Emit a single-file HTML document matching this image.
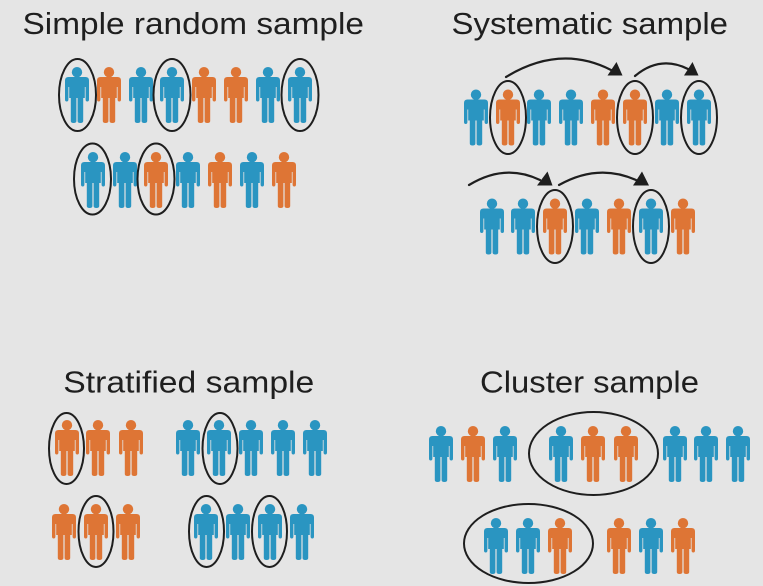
<!DOCTYPE html>
<html>
<head>
<meta charset="utf-8">
<style>
html,body{margin:0;padding:0;background:#e5e5e5;}
body{width:763px;height:586px;overflow:hidden;}
svg{display:block;}
.b{fill:#2a95c1;}
.o{fill:#de7535;}
.e{fill:none;stroke:#1e1e1e;stroke-width:2;}
.t{font-family:"Liberation Sans",sans-serif;font-size:31px;fill:#1f1f1f;}
.a{fill:none;stroke:#1e1e1e;stroke-width:2.2;stroke-linecap:round;}
.h{fill:#1e1e1e;}
</style>
</head>
<body>
<svg width="763" height="586" viewBox="0 0 763 586" xmlns="http://www.w3.org/2000/svg">
<rect width="763" height="586" fill="#e5e5e5"/>

<text class="t" x="22.5" y="34" textLength="341.5" lengthAdjust="spacingAndGlyphs">Simple random sample</text>
<text class="t" x="451.5" y="34" textLength="276.5" lengthAdjust="spacingAndGlyphs">Systematic sample</text>
<text class="t" x="63.3" y="392.5" textLength="251" lengthAdjust="spacingAndGlyphs">Stratified sample</text>
<text class="t" x="480" y="392.5" textLength="219" lengthAdjust="spacingAndGlyphs">Cluster sample</text>

<!-- Simple random sample row 1 (top=67) -->
<g transform="translate(77,67)" class="b"><circle cx="0" cy="5.2" r="5.2"/><path d="M-8.5 10H8.5Q12 10 12 13.5V20H-12V13.5Q-12 10-8.5 10ZM-12 15H-8.6V32.5Q-8.6 34.5-10.3 34.5Q-12 34.5-12 32.5ZM8.6 15H12V32.5Q12 34.5 10.3 34.5Q8.6 34.5 8.6 32.5ZM-7.8 15H7.8V31H-7.8ZM-6.2 28H-0.6V54Q-0.6 56-3.4 56Q-6.2 56-6.2 54ZM0.6 28H6.2V54Q6.2 56 3.4 56Q0.6 56 0.6 54ZM-2.2 8H2.2V11H-2.2Z"/></g>
<g transform="translate(109,67)" class="o"><circle cx="0" cy="5.2" r="5.2"/><path d="M-8.5 10H8.5Q12 10 12 13.5V20H-12V13.5Q-12 10-8.5 10ZM-12 15H-8.6V32.5Q-8.6 34.5-10.3 34.5Q-12 34.5-12 32.5ZM8.6 15H12V32.5Q12 34.5 10.3 34.5Q8.6 34.5 8.6 32.5ZM-7.8 15H7.8V31H-7.8ZM-6.2 28H-0.6V54Q-0.6 56-3.4 56Q-6.2 56-6.2 54ZM0.6 28H6.2V54Q6.2 56 3.4 56Q0.6 56 0.6 54ZM-2.2 8H2.2V11H-2.2Z"/></g>
<g transform="translate(141,67)" class="b"><circle cx="0" cy="5.2" r="5.2"/><path d="M-8.5 10H8.5Q12 10 12 13.5V20H-12V13.5Q-12 10-8.5 10ZM-12 15H-8.6V32.5Q-8.6 34.5-10.3 34.5Q-12 34.5-12 32.5ZM8.6 15H12V32.5Q12 34.5 10.3 34.5Q8.6 34.5 8.6 32.5ZM-7.8 15H7.8V31H-7.8ZM-6.2 28H-0.6V54Q-0.6 56-3.4 56Q-6.2 56-6.2 54ZM0.6 28H6.2V54Q6.2 56 3.4 56Q0.6 56 0.6 54ZM-2.2 8H2.2V11H-2.2Z"/></g>
<g transform="translate(172,67)" class="b"><circle cx="0" cy="5.2" r="5.2"/><path d="M-8.5 10H8.5Q12 10 12 13.5V20H-12V13.5Q-12 10-8.5 10ZM-12 15H-8.6V32.5Q-8.6 34.5-10.3 34.5Q-12 34.5-12 32.5ZM8.6 15H12V32.5Q12 34.5 10.3 34.5Q8.6 34.5 8.6 32.5ZM-7.8 15H7.8V31H-7.8ZM-6.2 28H-0.6V54Q-0.6 56-3.4 56Q-6.2 56-6.2 54ZM0.6 28H6.2V54Q6.2 56 3.4 56Q0.6 56 0.6 54ZM-2.2 8H2.2V11H-2.2Z"/></g>
<g transform="translate(204,67)" class="o"><circle cx="0" cy="5.2" r="5.2"/><path d="M-8.5 10H8.5Q12 10 12 13.5V20H-12V13.5Q-12 10-8.5 10ZM-12 15H-8.6V32.5Q-8.6 34.5-10.3 34.5Q-12 34.5-12 32.5ZM8.6 15H12V32.5Q12 34.5 10.3 34.5Q8.6 34.5 8.6 32.5ZM-7.8 15H7.8V31H-7.8ZM-6.2 28H-0.6V54Q-0.6 56-3.4 56Q-6.2 56-6.2 54ZM0.6 28H6.2V54Q6.2 56 3.4 56Q0.6 56 0.6 54ZM-2.2 8H2.2V11H-2.2Z"/></g>
<g transform="translate(236,67)" class="o"><circle cx="0" cy="5.2" r="5.2"/><path d="M-8.5 10H8.5Q12 10 12 13.5V20H-12V13.5Q-12 10-8.5 10ZM-12 15H-8.6V32.5Q-8.6 34.5-10.3 34.5Q-12 34.5-12 32.5ZM8.6 15H12V32.5Q12 34.5 10.3 34.5Q8.6 34.5 8.6 32.5ZM-7.8 15H7.8V31H-7.8ZM-6.2 28H-0.6V54Q-0.6 56-3.4 56Q-6.2 56-6.2 54ZM0.6 28H6.2V54Q6.2 56 3.4 56Q0.6 56 0.6 54ZM-2.2 8H2.2V11H-2.2Z"/></g>
<g transform="translate(268,67)" class="b"><circle cx="0" cy="5.2" r="5.2"/><path d="M-8.5 10H8.5Q12 10 12 13.5V20H-12V13.5Q-12 10-8.5 10ZM-12 15H-8.6V32.5Q-8.6 34.5-10.3 34.5Q-12 34.5-12 32.5ZM8.6 15H12V32.5Q12 34.5 10.3 34.5Q8.6 34.5 8.6 32.5ZM-7.8 15H7.8V31H-7.8ZM-6.2 28H-0.6V54Q-0.6 56-3.4 56Q-6.2 56-6.2 54ZM0.6 28H6.2V54Q6.2 56 3.4 56Q0.6 56 0.6 54ZM-2.2 8H2.2V11H-2.2Z"/></g>
<g transform="translate(300,67)" class="b"><circle cx="0" cy="5.2" r="5.2"/><path d="M-8.5 10H8.5Q12 10 12 13.5V20H-12V13.5Q-12 10-8.5 10ZM-12 15H-8.6V32.5Q-8.6 34.5-10.3 34.5Q-12 34.5-12 32.5ZM8.6 15H12V32.5Q12 34.5 10.3 34.5Q8.6 34.5 8.6 32.5ZM-7.8 15H7.8V31H-7.8ZM-6.2 28H-0.6V54Q-0.6 56-3.4 56Q-6.2 56-6.2 54ZM0.6 28H6.2V54Q6.2 56 3.4 56Q0.6 56 0.6 54ZM-2.2 8H2.2V11H-2.2Z"/></g>
<ellipse class="e" cx="77.5" cy="95" rx="18.5" ry="36"/>
<ellipse class="e" cx="172" cy="95" rx="18.5" ry="36"/>
<ellipse class="e" cx="300" cy="95" rx="18.5" ry="36"/>

<!-- Simple random sample row 2 (top=152) -->
<g transform="translate(93,152)" class="b"><circle cx="0" cy="5.2" r="5.2"/><path d="M-8.5 10H8.5Q12 10 12 13.5V20H-12V13.5Q-12 10-8.5 10ZM-12 15H-8.6V32.5Q-8.6 34.5-10.3 34.5Q-12 34.5-12 32.5ZM8.6 15H12V32.5Q12 34.5 10.3 34.5Q8.6 34.5 8.6 32.5ZM-7.8 15H7.8V31H-7.8ZM-6.2 28H-0.6V54Q-0.6 56-3.4 56Q-6.2 56-6.2 54ZM0.6 28H6.2V54Q6.2 56 3.4 56Q0.6 56 0.6 54ZM-2.2 8H2.2V11H-2.2Z"/></g>
<g transform="translate(125,152)" class="b"><circle cx="0" cy="5.2" r="5.2"/><path d="M-8.5 10H8.5Q12 10 12 13.5V20H-12V13.5Q-12 10-8.5 10ZM-12 15H-8.6V32.5Q-8.6 34.5-10.3 34.5Q-12 34.5-12 32.5ZM8.6 15H12V32.5Q12 34.5 10.3 34.5Q8.6 34.5 8.6 32.5ZM-7.8 15H7.8V31H-7.8ZM-6.2 28H-0.6V54Q-0.6 56-3.4 56Q-6.2 56-6.2 54ZM0.6 28H6.2V54Q6.2 56 3.4 56Q0.6 56 0.6 54ZM-2.2 8H2.2V11H-2.2Z"/></g>
<g transform="translate(156,152)" class="o"><circle cx="0" cy="5.2" r="5.2"/><path d="M-8.5 10H8.5Q12 10 12 13.5V20H-12V13.5Q-12 10-8.5 10ZM-12 15H-8.6V32.5Q-8.6 34.5-10.3 34.5Q-12 34.5-12 32.5ZM8.6 15H12V32.5Q12 34.5 10.3 34.5Q8.6 34.5 8.6 32.5ZM-7.8 15H7.8V31H-7.8ZM-6.2 28H-0.6V54Q-0.6 56-3.4 56Q-6.2 56-6.2 54ZM0.6 28H6.2V54Q6.2 56 3.4 56Q0.6 56 0.6 54ZM-2.2 8H2.2V11H-2.2Z"/></g>
<g transform="translate(188,152)" class="b"><circle cx="0" cy="5.2" r="5.2"/><path d="M-8.5 10H8.5Q12 10 12 13.5V20H-12V13.5Q-12 10-8.5 10ZM-12 15H-8.6V32.5Q-8.6 34.5-10.3 34.5Q-12 34.5-12 32.5ZM8.6 15H12V32.5Q12 34.5 10.3 34.5Q8.6 34.5 8.6 32.5ZM-7.8 15H7.8V31H-7.8ZM-6.2 28H-0.6V54Q-0.6 56-3.4 56Q-6.2 56-6.2 54ZM0.6 28H6.2V54Q6.2 56 3.4 56Q0.6 56 0.6 54ZM-2.2 8H2.2V11H-2.2Z"/></g>
<g transform="translate(220,152)" class="o"><circle cx="0" cy="5.2" r="5.2"/><path d="M-8.5 10H8.5Q12 10 12 13.5V20H-12V13.5Q-12 10-8.5 10ZM-12 15H-8.6V32.5Q-8.6 34.5-10.3 34.5Q-12 34.5-12 32.5ZM8.6 15H12V32.5Q12 34.5 10.3 34.5Q8.6 34.5 8.6 32.5ZM-7.8 15H7.8V31H-7.8ZM-6.2 28H-0.6V54Q-0.6 56-3.4 56Q-6.2 56-6.2 54ZM0.6 28H6.2V54Q6.2 56 3.4 56Q0.6 56 0.6 54ZM-2.2 8H2.2V11H-2.2Z"/></g>
<g transform="translate(252,152)" class="b"><circle cx="0" cy="5.2" r="5.2"/><path d="M-8.5 10H8.5Q12 10 12 13.5V20H-12V13.5Q-12 10-8.5 10ZM-12 15H-8.6V32.5Q-8.6 34.5-10.3 34.5Q-12 34.5-12 32.5ZM8.6 15H12V32.5Q12 34.5 10.3 34.5Q8.6 34.5 8.6 32.5ZM-7.8 15H7.8V31H-7.8ZM-6.2 28H-0.6V54Q-0.6 56-3.4 56Q-6.2 56-6.2 54ZM0.6 28H6.2V54Q6.2 56 3.4 56Q0.6 56 0.6 54ZM-2.2 8H2.2V11H-2.2Z"/></g>
<g transform="translate(284,152)" class="o"><circle cx="0" cy="5.2" r="5.2"/><path d="M-8.5 10H8.5Q12 10 12 13.5V20H-12V13.5Q-12 10-8.5 10ZM-12 15H-8.6V32.5Q-8.6 34.5-10.3 34.5Q-12 34.5-12 32.5ZM8.6 15H12V32.5Q12 34.5 10.3 34.5Q8.6 34.5 8.6 32.5ZM-7.8 15H7.8V31H-7.8ZM-6.2 28H-0.6V54Q-0.6 56-3.4 56Q-6.2 56-6.2 54ZM0.6 28H6.2V54Q6.2 56 3.4 56Q0.6 56 0.6 54ZM-2.2 8H2.2V11H-2.2Z"/></g>
<ellipse class="e" cx="92.5" cy="179" rx="18.5" ry="35.5"/>
<ellipse class="e" cx="156" cy="179" rx="18.5" ry="35.5"/>

<!-- Systematic sample row 1 (top=89.5) -->
<g transform="translate(476,89.5)" class="b"><circle cx="0" cy="5.2" r="5.2"/><path d="M-8.5 10H8.5Q12 10 12 13.5V20H-12V13.5Q-12 10-8.5 10ZM-12 15H-8.6V32.5Q-8.6 34.5-10.3 34.5Q-12 34.5-12 32.5ZM8.6 15H12V32.5Q12 34.5 10.3 34.5Q8.6 34.5 8.6 32.5ZM-7.8 15H7.8V31H-7.8ZM-6.2 28H-0.6V54Q-0.6 56-3.4 56Q-6.2 56-6.2 54ZM0.6 28H6.2V54Q6.2 56 3.4 56Q0.6 56 0.6 54ZM-2.2 8H2.2V11H-2.2Z"/></g>
<g transform="translate(508,89.5)" class="o"><circle cx="0" cy="5.2" r="5.2"/><path d="M-8.5 10H8.5Q12 10 12 13.5V20H-12V13.5Q-12 10-8.5 10ZM-12 15H-8.6V32.5Q-8.6 34.5-10.3 34.5Q-12 34.5-12 32.5ZM8.6 15H12V32.5Q12 34.5 10.3 34.5Q8.6 34.5 8.6 32.5ZM-7.8 15H7.8V31H-7.8ZM-6.2 28H-0.6V54Q-0.6 56-3.4 56Q-6.2 56-6.2 54ZM0.6 28H6.2V54Q6.2 56 3.4 56Q0.6 56 0.6 54ZM-2.2 8H2.2V11H-2.2Z"/></g>
<g transform="translate(539,89.5)" class="b"><circle cx="0" cy="5.2" r="5.2"/><path d="M-8.5 10H8.5Q12 10 12 13.5V20H-12V13.5Q-12 10-8.5 10ZM-12 15H-8.6V32.5Q-8.6 34.5-10.3 34.5Q-12 34.5-12 32.5ZM8.6 15H12V32.5Q12 34.5 10.3 34.5Q8.6 34.5 8.6 32.5ZM-7.8 15H7.8V31H-7.8ZM-6.2 28H-0.6V54Q-0.6 56-3.4 56Q-6.2 56-6.2 54ZM0.6 28H6.2V54Q6.2 56 3.4 56Q0.6 56 0.6 54ZM-2.2 8H2.2V11H-2.2Z"/></g>
<g transform="translate(571,89.5)" class="b"><circle cx="0" cy="5.2" r="5.2"/><path d="M-8.5 10H8.5Q12 10 12 13.5V20H-12V13.5Q-12 10-8.5 10ZM-12 15H-8.6V32.5Q-8.6 34.5-10.3 34.5Q-12 34.5-12 32.5ZM8.6 15H12V32.5Q12 34.5 10.3 34.5Q8.6 34.5 8.6 32.5ZM-7.8 15H7.8V31H-7.8ZM-6.2 28H-0.6V54Q-0.6 56-3.4 56Q-6.2 56-6.2 54ZM0.6 28H6.2V54Q6.2 56 3.4 56Q0.6 56 0.6 54ZM-2.2 8H2.2V11H-2.2Z"/></g>
<g transform="translate(603,89.5)" class="o"><circle cx="0" cy="5.2" r="5.2"/><path d="M-8.5 10H8.5Q12 10 12 13.5V20H-12V13.5Q-12 10-8.5 10ZM-12 15H-8.6V32.5Q-8.6 34.5-10.3 34.5Q-12 34.5-12 32.5ZM8.6 15H12V32.5Q12 34.5 10.3 34.5Q8.6 34.5 8.6 32.5ZM-7.8 15H7.8V31H-7.8ZM-6.2 28H-0.6V54Q-0.6 56-3.4 56Q-6.2 56-6.2 54ZM0.6 28H6.2V54Q6.2 56 3.4 56Q0.6 56 0.6 54ZM-2.2 8H2.2V11H-2.2Z"/></g>
<g transform="translate(635,89.5)" class="o"><circle cx="0" cy="5.2" r="5.2"/><path d="M-8.5 10H8.5Q12 10 12 13.5V20H-12V13.5Q-12 10-8.5 10ZM-12 15H-8.6V32.5Q-8.6 34.5-10.3 34.5Q-12 34.5-12 32.5ZM8.6 15H12V32.5Q12 34.5 10.3 34.5Q8.6 34.5 8.6 32.5ZM-7.8 15H7.8V31H-7.8ZM-6.2 28H-0.6V54Q-0.6 56-3.4 56Q-6.2 56-6.2 54ZM0.6 28H6.2V54Q6.2 56 3.4 56Q0.6 56 0.6 54ZM-2.2 8H2.2V11H-2.2Z"/></g>
<g transform="translate(667,89.5)" class="b"><circle cx="0" cy="5.2" r="5.2"/><path d="M-8.5 10H8.5Q12 10 12 13.5V20H-12V13.5Q-12 10-8.5 10ZM-12 15H-8.6V32.5Q-8.6 34.5-10.3 34.5Q-12 34.5-12 32.5ZM8.6 15H12V32.5Q12 34.5 10.3 34.5Q8.6 34.5 8.6 32.5ZM-7.8 15H7.8V31H-7.8ZM-6.2 28H-0.6V54Q-0.6 56-3.4 56Q-6.2 56-6.2 54ZM0.6 28H6.2V54Q6.2 56 3.4 56Q0.6 56 0.6 54ZM-2.2 8H2.2V11H-2.2Z"/></g>
<g transform="translate(699,89.5)" class="b"><circle cx="0" cy="5.2" r="5.2"/><path d="M-8.5 10H8.5Q12 10 12 13.5V20H-12V13.5Q-12 10-8.5 10ZM-12 15H-8.6V32.5Q-8.6 34.5-10.3 34.5Q-12 34.5-12 32.5ZM8.6 15H12V32.5Q12 34.5 10.3 34.5Q8.6 34.5 8.6 32.5ZM-7.8 15H7.8V31H-7.8ZM-6.2 28H-0.6V54Q-0.6 56-3.4 56Q-6.2 56-6.2 54ZM0.6 28H6.2V54Q6.2 56 3.4 56Q0.6 56 0.6 54ZM-2.2 8H2.2V11H-2.2Z"/></g>
<ellipse class="e" cx="508" cy="117.5" rx="18" ry="36.5"/>
<ellipse class="e" cx="635" cy="117.5" rx="18" ry="36.5"/>
<ellipse class="e" cx="699" cy="117.5" rx="18" ry="36.5"/>
<path class="a" d="M506 77 Q560 44 611 70"/>
<polygon class="h" points="607.5,75.5 622.5,75.5 616.5,62"/>
<path class="a" d="M635 76 Q660 55 688 69"/>
<polygon class="h" points="684,75.5 698.5,75.5 692.5,62"/>

<!-- Systematic sample row 2 (top=198.5) -->
<g transform="translate(492,198.5)" class="b"><circle cx="0" cy="5.2" r="5.2"/><path d="M-8.5 10H8.5Q12 10 12 13.5V20H-12V13.5Q-12 10-8.5 10ZM-12 15H-8.6V32.5Q-8.6 34.5-10.3 34.5Q-12 34.5-12 32.5ZM8.6 15H12V32.5Q12 34.5 10.3 34.5Q8.6 34.5 8.6 32.5ZM-7.8 15H7.8V31H-7.8ZM-6.2 28H-0.6V54Q-0.6 56-3.4 56Q-6.2 56-6.2 54ZM0.6 28H6.2V54Q6.2 56 3.4 56Q0.6 56 0.6 54ZM-2.2 8H2.2V11H-2.2Z"/></g>
<g transform="translate(523,198.5)" class="b"><circle cx="0" cy="5.2" r="5.2"/><path d="M-8.5 10H8.5Q12 10 12 13.5V20H-12V13.5Q-12 10-8.5 10ZM-12 15H-8.6V32.5Q-8.6 34.5-10.3 34.5Q-12 34.5-12 32.5ZM8.6 15H12V32.5Q12 34.5 10.3 34.5Q8.6 34.5 8.6 32.5ZM-7.8 15H7.8V31H-7.8ZM-6.2 28H-0.6V54Q-0.6 56-3.4 56Q-6.2 56-6.2 54ZM0.6 28H6.2V54Q6.2 56 3.4 56Q0.6 56 0.6 54ZM-2.2 8H2.2V11H-2.2Z"/></g>
<g transform="translate(555,198.5)" class="o"><circle cx="0" cy="5.2" r="5.2"/><path d="M-8.5 10H8.5Q12 10 12 13.5V20H-12V13.5Q-12 10-8.5 10ZM-12 15H-8.6V32.5Q-8.6 34.5-10.3 34.5Q-12 34.5-12 32.5ZM8.6 15H12V32.5Q12 34.5 10.3 34.5Q8.6 34.5 8.6 32.5ZM-7.8 15H7.8V31H-7.8ZM-6.2 28H-0.6V54Q-0.6 56-3.4 56Q-6.2 56-6.2 54ZM0.6 28H6.2V54Q6.2 56 3.4 56Q0.6 56 0.6 54ZM-2.2 8H2.2V11H-2.2Z"/></g>
<g transform="translate(587,198.5)" class="b"><circle cx="0" cy="5.2" r="5.2"/><path d="M-8.5 10H8.5Q12 10 12 13.5V20H-12V13.5Q-12 10-8.5 10ZM-12 15H-8.6V32.5Q-8.6 34.5-10.3 34.5Q-12 34.5-12 32.5ZM8.6 15H12V32.5Q12 34.5 10.3 34.5Q8.6 34.5 8.6 32.5ZM-7.8 15H7.8V31H-7.8ZM-6.2 28H-0.6V54Q-0.6 56-3.4 56Q-6.2 56-6.2 54ZM0.6 28H6.2V54Q6.2 56 3.4 56Q0.6 56 0.6 54ZM-2.2 8H2.2V11H-2.2Z"/></g>
<g transform="translate(619,198.5)" class="o"><circle cx="0" cy="5.2" r="5.2"/><path d="M-8.5 10H8.5Q12 10 12 13.5V20H-12V13.5Q-12 10-8.5 10ZM-12 15H-8.6V32.5Q-8.6 34.5-10.3 34.5Q-12 34.5-12 32.5ZM8.6 15H12V32.5Q12 34.5 10.3 34.5Q8.6 34.5 8.6 32.5ZM-7.8 15H7.8V31H-7.8ZM-6.2 28H-0.6V54Q-0.6 56-3.4 56Q-6.2 56-6.2 54ZM0.6 28H6.2V54Q6.2 56 3.4 56Q0.6 56 0.6 54ZM-2.2 8H2.2V11H-2.2Z"/></g>
<g transform="translate(651,198.5)" class="b"><circle cx="0" cy="5.2" r="5.2"/><path d="M-8.5 10H8.5Q12 10 12 13.5V20H-12V13.5Q-12 10-8.5 10ZM-12 15H-8.6V32.5Q-8.6 34.5-10.3 34.5Q-12 34.5-12 32.5ZM8.6 15H12V32.5Q12 34.5 10.3 34.5Q8.6 34.5 8.6 32.5ZM-7.8 15H7.8V31H-7.8ZM-6.2 28H-0.6V54Q-0.6 56-3.4 56Q-6.2 56-6.2 54ZM0.6 28H6.2V54Q6.2 56 3.4 56Q0.6 56 0.6 54ZM-2.2 8H2.2V11H-2.2Z"/></g>
<g transform="translate(683,198.5)" class="o"><circle cx="0" cy="5.2" r="5.2"/><path d="M-8.5 10H8.5Q12 10 12 13.5V20H-12V13.5Q-12 10-8.5 10ZM-12 15H-8.6V32.5Q-8.6 34.5-10.3 34.5Q-12 34.5-12 32.5ZM8.6 15H12V32.5Q12 34.5 10.3 34.5Q8.6 34.5 8.6 32.5ZM-7.8 15H7.8V31H-7.8ZM-6.2 28H-0.6V54Q-0.6 56-3.4 56Q-6.2 56-6.2 54ZM0.6 28H6.2V54Q6.2 56 3.4 56Q0.6 56 0.6 54ZM-2.2 8H2.2V11H-2.2Z"/></g>
<ellipse class="e" cx="555" cy="226.5" rx="18" ry="36.5"/>
<ellipse class="e" cx="651" cy="226.5" rx="18" ry="36.5"/>
<path class="a" d="M469 185 Q505 163 540 180"/>
<polygon class="h" points="537,185.5 552.5,185.5 547.5,171.5"/>
<path class="a" d="M559 185 Q598 163 636 180"/>
<polygon class="h" points="633,185.5 649,185.5 642,171.5"/>

<!-- Stratified row 1 (top=420) -->
<g transform="translate(67,420)" class="o"><circle cx="0" cy="5.2" r="5.2"/><path d="M-8.5 10H8.5Q12 10 12 13.5V20H-12V13.5Q-12 10-8.5 10ZM-12 15H-8.6V32.5Q-8.6 34.5-10.3 34.5Q-12 34.5-12 32.5ZM8.6 15H12V32.5Q12 34.5 10.3 34.5Q8.6 34.5 8.6 32.5ZM-7.8 15H7.8V31H-7.8ZM-6.2 28H-0.6V54Q-0.6 56-3.4 56Q-6.2 56-6.2 54ZM0.6 28H6.2V54Q6.2 56 3.4 56Q0.6 56 0.6 54ZM-2.2 8H2.2V11H-2.2Z"/></g>
<g transform="translate(98,420)" class="o"><circle cx="0" cy="5.2" r="5.2"/><path d="M-8.5 10H8.5Q12 10 12 13.5V20H-12V13.5Q-12 10-8.5 10ZM-12 15H-8.6V32.5Q-8.6 34.5-10.3 34.5Q-12 34.5-12 32.5ZM8.6 15H12V32.5Q12 34.5 10.3 34.5Q8.6 34.5 8.6 32.5ZM-7.8 15H7.8V31H-7.8ZM-6.2 28H-0.6V54Q-0.6 56-3.4 56Q-6.2 56-6.2 54ZM0.6 28H6.2V54Q6.2 56 3.4 56Q0.6 56 0.6 54ZM-2.2 8H2.2V11H-2.2Z"/></g>
<g transform="translate(131,420)" class="o"><circle cx="0" cy="5.2" r="5.2"/><path d="M-8.5 10H8.5Q12 10 12 13.5V20H-12V13.5Q-12 10-8.5 10ZM-12 15H-8.6V32.5Q-8.6 34.5-10.3 34.5Q-12 34.5-12 32.5ZM8.6 15H12V32.5Q12 34.5 10.3 34.5Q8.6 34.5 8.6 32.5ZM-7.8 15H7.8V31H-7.8ZM-6.2 28H-0.6V54Q-0.6 56-3.4 56Q-6.2 56-6.2 54ZM0.6 28H6.2V54Q6.2 56 3.4 56Q0.6 56 0.6 54ZM-2.2 8H2.2V11H-2.2Z"/></g>
<g transform="translate(188,420)" class="b"><circle cx="0" cy="5.2" r="5.2"/><path d="M-8.5 10H8.5Q12 10 12 13.5V20H-12V13.5Q-12 10-8.5 10ZM-12 15H-8.6V32.5Q-8.6 34.5-10.3 34.5Q-12 34.5-12 32.5ZM8.6 15H12V32.5Q12 34.5 10.3 34.5Q8.6 34.5 8.6 32.5ZM-7.8 15H7.8V31H-7.8ZM-6.2 28H-0.6V54Q-0.6 56-3.4 56Q-6.2 56-6.2 54ZM0.6 28H6.2V54Q6.2 56 3.4 56Q0.6 56 0.6 54ZM-2.2 8H2.2V11H-2.2Z"/></g>
<g transform="translate(219,420)" class="b"><circle cx="0" cy="5.2" r="5.2"/><path d="M-8.5 10H8.5Q12 10 12 13.5V20H-12V13.5Q-12 10-8.5 10ZM-12 15H-8.6V32.5Q-8.6 34.5-10.3 34.5Q-12 34.5-12 32.5ZM8.6 15H12V32.5Q12 34.5 10.3 34.5Q8.6 34.5 8.6 32.5ZM-7.8 15H7.8V31H-7.8ZM-6.2 28H-0.6V54Q-0.6 56-3.4 56Q-6.2 56-6.2 54ZM0.6 28H6.2V54Q6.2 56 3.4 56Q0.6 56 0.6 54ZM-2.2 8H2.2V11H-2.2Z"/></g>
<g transform="translate(251,420)" class="b"><circle cx="0" cy="5.2" r="5.2"/><path d="M-8.5 10H8.5Q12 10 12 13.5V20H-12V13.5Q-12 10-8.5 10ZM-12 15H-8.6V32.5Q-8.6 34.5-10.3 34.5Q-12 34.5-12 32.5ZM8.6 15H12V32.5Q12 34.5 10.3 34.5Q8.6 34.5 8.6 32.5ZM-7.8 15H7.8V31H-7.8ZM-6.2 28H-0.6V54Q-0.6 56-3.4 56Q-6.2 56-6.2 54ZM0.6 28H6.2V54Q6.2 56 3.4 56Q0.6 56 0.6 54ZM-2.2 8H2.2V11H-2.2Z"/></g>
<g transform="translate(283,420)" class="b"><circle cx="0" cy="5.2" r="5.2"/><path d="M-8.5 10H8.5Q12 10 12 13.5V20H-12V13.5Q-12 10-8.5 10ZM-12 15H-8.6V32.5Q-8.6 34.5-10.3 34.5Q-12 34.5-12 32.5ZM8.6 15H12V32.5Q12 34.5 10.3 34.5Q8.6 34.5 8.6 32.5ZM-7.8 15H7.8V31H-7.8ZM-6.2 28H-0.6V54Q-0.6 56-3.4 56Q-6.2 56-6.2 54ZM0.6 28H6.2V54Q6.2 56 3.4 56Q0.6 56 0.6 54ZM-2.2 8H2.2V11H-2.2Z"/></g>
<g transform="translate(315,420)" class="b"><circle cx="0" cy="5.2" r="5.2"/><path d="M-8.5 10H8.5Q12 10 12 13.5V20H-12V13.5Q-12 10-8.5 10ZM-12 15H-8.6V32.5Q-8.6 34.5-10.3 34.5Q-12 34.5-12 32.5ZM8.6 15H12V32.5Q12 34.5 10.3 34.5Q8.6 34.5 8.6 32.5ZM-7.8 15H7.8V31H-7.8ZM-6.2 28H-0.6V54Q-0.6 56-3.4 56Q-6.2 56-6.2 54ZM0.6 28H6.2V54Q6.2 56 3.4 56Q0.6 56 0.6 54ZM-2.2 8H2.2V11H-2.2Z"/></g>
<ellipse class="e" cx="66.5" cy="448.5" rx="17.5" ry="35.5"/>
<ellipse class="e" cx="220" cy="448.5" rx="17.5" ry="35.5"/>

<!-- Stratified row 2 (top=504) -->
<g transform="translate(64,504)" class="o"><circle cx="0" cy="5.2" r="5.2"/><path d="M-8.5 10H8.5Q12 10 12 13.5V20H-12V13.5Q-12 10-8.5 10ZM-12 15H-8.6V32.5Q-8.6 34.5-10.3 34.5Q-12 34.5-12 32.5ZM8.6 15H12V32.5Q12 34.5 10.3 34.5Q8.6 34.5 8.6 32.5ZM-7.8 15H7.8V31H-7.8ZM-6.2 28H-0.6V54Q-0.6 56-3.4 56Q-6.2 56-6.2 54ZM0.6 28H6.2V54Q6.2 56 3.4 56Q0.6 56 0.6 54ZM-2.2 8H2.2V11H-2.2Z"/></g>
<g transform="translate(96,504)" class="o"><circle cx="0" cy="5.2" r="5.2"/><path d="M-8.5 10H8.5Q12 10 12 13.5V20H-12V13.5Q-12 10-8.5 10ZM-12 15H-8.6V32.5Q-8.6 34.5-10.3 34.5Q-12 34.5-12 32.5ZM8.6 15H12V32.5Q12 34.5 10.3 34.5Q8.6 34.5 8.6 32.5ZM-7.8 15H7.8V31H-7.8ZM-6.2 28H-0.6V54Q-0.6 56-3.4 56Q-6.2 56-6.2 54ZM0.6 28H6.2V54Q6.2 56 3.4 56Q0.6 56 0.6 54ZM-2.2 8H2.2V11H-2.2Z"/></g>
<g transform="translate(128,504)" class="o"><circle cx="0" cy="5.2" r="5.2"/><path d="M-8.5 10H8.5Q12 10 12 13.5V20H-12V13.5Q-12 10-8.5 10ZM-12 15H-8.6V32.5Q-8.6 34.5-10.3 34.5Q-12 34.5-12 32.5ZM8.6 15H12V32.5Q12 34.5 10.3 34.5Q8.6 34.5 8.6 32.5ZM-7.8 15H7.8V31H-7.8ZM-6.2 28H-0.6V54Q-0.6 56-3.4 56Q-6.2 56-6.2 54ZM0.6 28H6.2V54Q6.2 56 3.4 56Q0.6 56 0.6 54ZM-2.2 8H2.2V11H-2.2Z"/></g>
<g transform="translate(206,504)" class="b"><circle cx="0" cy="5.2" r="5.2"/><path d="M-8.5 10H8.5Q12 10 12 13.5V20H-12V13.5Q-12 10-8.5 10ZM-12 15H-8.6V32.5Q-8.6 34.5-10.3 34.5Q-12 34.5-12 32.5ZM8.6 15H12V32.5Q12 34.5 10.3 34.5Q8.6 34.5 8.6 32.5ZM-7.8 15H7.8V31H-7.8ZM-6.2 28H-0.6V54Q-0.6 56-3.4 56Q-6.2 56-6.2 54ZM0.6 28H6.2V54Q6.2 56 3.4 56Q0.6 56 0.6 54ZM-2.2 8H2.2V11H-2.2Z"/></g>
<g transform="translate(238,504)" class="b"><circle cx="0" cy="5.2" r="5.2"/><path d="M-8.5 10H8.5Q12 10 12 13.5V20H-12V13.5Q-12 10-8.5 10ZM-12 15H-8.6V32.5Q-8.6 34.5-10.3 34.5Q-12 34.5-12 32.5ZM8.6 15H12V32.5Q12 34.5 10.3 34.5Q8.6 34.5 8.6 32.5ZM-7.8 15H7.8V31H-7.8ZM-6.2 28H-0.6V54Q-0.6 56-3.4 56Q-6.2 56-6.2 54ZM0.6 28H6.2V54Q6.2 56 3.4 56Q0.6 56 0.6 54ZM-2.2 8H2.2V11H-2.2Z"/></g>
<g transform="translate(270,504)" class="b"><circle cx="0" cy="5.2" r="5.2"/><path d="M-8.5 10H8.5Q12 10 12 13.5V20H-12V13.5Q-12 10-8.5 10ZM-12 15H-8.6V32.5Q-8.6 34.5-10.3 34.5Q-12 34.5-12 32.5ZM8.6 15H12V32.5Q12 34.5 10.3 34.5Q8.6 34.5 8.6 32.5ZM-7.8 15H7.8V31H-7.8ZM-6.2 28H-0.6V54Q-0.6 56-3.4 56Q-6.2 56-6.2 54ZM0.6 28H6.2V54Q6.2 56 3.4 56Q0.6 56 0.6 54ZM-2.2 8H2.2V11H-2.2Z"/></g>
<g transform="translate(302,504)" class="b"><circle cx="0" cy="5.2" r="5.2"/><path d="M-8.5 10H8.5Q12 10 12 13.5V20H-12V13.5Q-12 10-8.5 10ZM-12 15H-8.6V32.5Q-8.6 34.5-10.3 34.5Q-12 34.5-12 32.5ZM8.6 15H12V32.5Q12 34.5 10.3 34.5Q8.6 34.5 8.6 32.5ZM-7.8 15H7.8V31H-7.8ZM-6.2 28H-0.6V54Q-0.6 56-3.4 56Q-6.2 56-6.2 54ZM0.6 28H6.2V54Q6.2 56 3.4 56Q0.6 56 0.6 54ZM-2.2 8H2.2V11H-2.2Z"/></g>
<ellipse class="e" cx="96" cy="531.5" rx="17.5" ry="35.5"/>
<ellipse class="e" cx="206.5" cy="531.5" rx="17.5" ry="35.5"/>
<ellipse class="e" cx="269.5" cy="531.5" rx="17.5" ry="35.5"/>

<!-- Cluster row 1 (top=426) -->
<g transform="translate(441,426)" class="b"><circle cx="0" cy="5.2" r="5.2"/><path d="M-8.5 10H8.5Q12 10 12 13.5V20H-12V13.5Q-12 10-8.5 10ZM-12 15H-8.6V32.5Q-8.6 34.5-10.3 34.5Q-12 34.5-12 32.5ZM8.6 15H12V32.5Q12 34.5 10.3 34.5Q8.6 34.5 8.6 32.5ZM-7.8 15H7.8V31H-7.8ZM-6.2 28H-0.6V54Q-0.6 56-3.4 56Q-6.2 56-6.2 54ZM0.6 28H6.2V54Q6.2 56 3.4 56Q0.6 56 0.6 54ZM-2.2 8H2.2V11H-2.2Z"/></g>
<g transform="translate(473,426)" class="o"><circle cx="0" cy="5.2" r="5.2"/><path d="M-8.5 10H8.5Q12 10 12 13.5V20H-12V13.5Q-12 10-8.5 10ZM-12 15H-8.6V32.5Q-8.6 34.5-10.3 34.5Q-12 34.5-12 32.5ZM8.6 15H12V32.5Q12 34.5 10.3 34.5Q8.6 34.5 8.6 32.5ZM-7.8 15H7.8V31H-7.8ZM-6.2 28H-0.6V54Q-0.6 56-3.4 56Q-6.2 56-6.2 54ZM0.6 28H6.2V54Q6.2 56 3.4 56Q0.6 56 0.6 54ZM-2.2 8H2.2V11H-2.2Z"/></g>
<g transform="translate(505,426)" class="b"><circle cx="0" cy="5.2" r="5.2"/><path d="M-8.5 10H8.5Q12 10 12 13.5V20H-12V13.5Q-12 10-8.5 10ZM-12 15H-8.6V32.5Q-8.6 34.5-10.3 34.5Q-12 34.5-12 32.5ZM8.6 15H12V32.5Q12 34.5 10.3 34.5Q8.6 34.5 8.6 32.5ZM-7.8 15H7.8V31H-7.8ZM-6.2 28H-0.6V54Q-0.6 56-3.4 56Q-6.2 56-6.2 54ZM0.6 28H6.2V54Q6.2 56 3.4 56Q0.6 56 0.6 54ZM-2.2 8H2.2V11H-2.2Z"/></g>
<g transform="translate(561,426)" class="b"><circle cx="0" cy="5.2" r="5.2"/><path d="M-8.5 10H8.5Q12 10 12 13.5V20H-12V13.5Q-12 10-8.5 10ZM-12 15H-8.6V32.5Q-8.6 34.5-10.3 34.5Q-12 34.5-12 32.5ZM8.6 15H12V32.5Q12 34.5 10.3 34.5Q8.6 34.5 8.6 32.5ZM-7.8 15H7.8V31H-7.8ZM-6.2 28H-0.6V54Q-0.6 56-3.4 56Q-6.2 56-6.2 54ZM0.6 28H6.2V54Q6.2 56 3.4 56Q0.6 56 0.6 54ZM-2.2 8H2.2V11H-2.2Z"/></g>
<g transform="translate(593,426)" class="o"><circle cx="0" cy="5.2" r="5.2"/><path d="M-8.5 10H8.5Q12 10 12 13.5V20H-12V13.5Q-12 10-8.5 10ZM-12 15H-8.6V32.5Q-8.6 34.5-10.3 34.5Q-12 34.5-12 32.5ZM8.6 15H12V32.5Q12 34.5 10.3 34.5Q8.6 34.5 8.6 32.5ZM-7.8 15H7.8V31H-7.8ZM-6.2 28H-0.6V54Q-0.6 56-3.4 56Q-6.2 56-6.2 54ZM0.6 28H6.2V54Q6.2 56 3.4 56Q0.6 56 0.6 54ZM-2.2 8H2.2V11H-2.2Z"/></g>
<g transform="translate(626,426)" class="o"><circle cx="0" cy="5.2" r="5.2"/><path d="M-8.5 10H8.5Q12 10 12 13.5V20H-12V13.5Q-12 10-8.5 10ZM-12 15H-8.6V32.5Q-8.6 34.5-10.3 34.5Q-12 34.5-12 32.5ZM8.6 15H12V32.5Q12 34.5 10.3 34.5Q8.6 34.5 8.6 32.5ZM-7.8 15H7.8V31H-7.8ZM-6.2 28H-0.6V54Q-0.6 56-3.4 56Q-6.2 56-6.2 54ZM0.6 28H6.2V54Q6.2 56 3.4 56Q0.6 56 0.6 54ZM-2.2 8H2.2V11H-2.2Z"/></g>
<g transform="translate(675,426)" class="b"><circle cx="0" cy="5.2" r="5.2"/><path d="M-8.5 10H8.5Q12 10 12 13.5V20H-12V13.5Q-12 10-8.5 10ZM-12 15H-8.6V32.5Q-8.6 34.5-10.3 34.5Q-12 34.5-12 32.5ZM8.6 15H12V32.5Q12 34.5 10.3 34.5Q8.6 34.5 8.6 32.5ZM-7.8 15H7.8V31H-7.8ZM-6.2 28H-0.6V54Q-0.6 56-3.4 56Q-6.2 56-6.2 54ZM0.6 28H6.2V54Q6.2 56 3.4 56Q0.6 56 0.6 54ZM-2.2 8H2.2V11H-2.2Z"/></g>
<g transform="translate(706,426)" class="b"><circle cx="0" cy="5.2" r="5.2"/><path d="M-8.5 10H8.5Q12 10 12 13.5V20H-12V13.5Q-12 10-8.5 10ZM-12 15H-8.6V32.5Q-8.6 34.5-10.3 34.5Q-12 34.5-12 32.5ZM8.6 15H12V32.5Q12 34.5 10.3 34.5Q8.6 34.5 8.6 32.5ZM-7.8 15H7.8V31H-7.8ZM-6.2 28H-0.6V54Q-0.6 56-3.4 56Q-6.2 56-6.2 54ZM0.6 28H6.2V54Q6.2 56 3.4 56Q0.6 56 0.6 54ZM-2.2 8H2.2V11H-2.2Z"/></g>
<g transform="translate(738,426)" class="b"><circle cx="0" cy="5.2" r="5.2"/><path d="M-8.5 10H8.5Q12 10 12 13.5V20H-12V13.5Q-12 10-8.5 10ZM-12 15H-8.6V32.5Q-8.6 34.5-10.3 34.5Q-12 34.5-12 32.5ZM8.6 15H12V32.5Q12 34.5 10.3 34.5Q8.6 34.5 8.6 32.5ZM-7.8 15H7.8V31H-7.8ZM-6.2 28H-0.6V54Q-0.6 56-3.4 56Q-6.2 56-6.2 54ZM0.6 28H6.2V54Q6.2 56 3.4 56Q0.6 56 0.6 54ZM-2.2 8H2.2V11H-2.2Z"/></g>
<ellipse class="e" cx="593.5" cy="453.5" rx="64.5" ry="41.5"/>

<!-- Cluster row 2 (top=518) -->
<g transform="translate(496,518)" class="b"><circle cx="0" cy="5.2" r="5.2"/><path d="M-8.5 10H8.5Q12 10 12 13.5V20H-12V13.5Q-12 10-8.5 10ZM-12 15H-8.6V32.5Q-8.6 34.5-10.3 34.5Q-12 34.5-12 32.5ZM8.6 15H12V32.5Q12 34.5 10.3 34.5Q8.6 34.5 8.6 32.5ZM-7.8 15H7.8V31H-7.8ZM-6.2 28H-0.6V54Q-0.6 56-3.4 56Q-6.2 56-6.2 54ZM0.6 28H6.2V54Q6.2 56 3.4 56Q0.6 56 0.6 54ZM-2.2 8H2.2V11H-2.2Z"/></g>
<g transform="translate(528,518)" class="b"><circle cx="0" cy="5.2" r="5.2"/><path d="M-8.5 10H8.5Q12 10 12 13.5V20H-12V13.5Q-12 10-8.5 10ZM-12 15H-8.6V32.5Q-8.6 34.5-10.3 34.5Q-12 34.5-12 32.5ZM8.6 15H12V32.5Q12 34.5 10.3 34.5Q8.6 34.5 8.6 32.5ZM-7.8 15H7.8V31H-7.8ZM-6.2 28H-0.6V54Q-0.6 56-3.4 56Q-6.2 56-6.2 54ZM0.6 28H6.2V54Q6.2 56 3.4 56Q0.6 56 0.6 54ZM-2.2 8H2.2V11H-2.2Z"/></g>
<g transform="translate(560,518)" class="o"><circle cx="0" cy="5.2" r="5.2"/><path d="M-8.5 10H8.5Q12 10 12 13.5V20H-12V13.5Q-12 10-8.5 10ZM-12 15H-8.6V32.5Q-8.6 34.5-10.3 34.5Q-12 34.5-12 32.5ZM8.6 15H12V32.5Q12 34.5 10.3 34.5Q8.6 34.5 8.6 32.5ZM-7.8 15H7.8V31H-7.8ZM-6.2 28H-0.6V54Q-0.6 56-3.4 56Q-6.2 56-6.2 54ZM0.6 28H6.2V54Q6.2 56 3.4 56Q0.6 56 0.6 54ZM-2.2 8H2.2V11H-2.2Z"/></g>
<g transform="translate(619,518)" class="o"><circle cx="0" cy="5.2" r="5.2"/><path d="M-8.5 10H8.5Q12 10 12 13.5V20H-12V13.5Q-12 10-8.5 10ZM-12 15H-8.6V32.5Q-8.6 34.5-10.3 34.5Q-12 34.5-12 32.5ZM8.6 15H12V32.5Q12 34.5 10.3 34.5Q8.6 34.5 8.6 32.5ZM-7.8 15H7.8V31H-7.8ZM-6.2 28H-0.6V54Q-0.6 56-3.4 56Q-6.2 56-6.2 54ZM0.6 28H6.2V54Q6.2 56 3.4 56Q0.6 56 0.6 54ZM-2.2 8H2.2V11H-2.2Z"/></g>
<g transform="translate(651,518)" class="b"><circle cx="0" cy="5.2" r="5.2"/><path d="M-8.5 10H8.5Q12 10 12 13.5V20H-12V13.5Q-12 10-8.5 10ZM-12 15H-8.6V32.5Q-8.6 34.5-10.3 34.5Q-12 34.5-12 32.5ZM8.6 15H12V32.5Q12 34.5 10.3 34.5Q8.6 34.5 8.6 32.5ZM-7.8 15H7.8V31H-7.8ZM-6.2 28H-0.6V54Q-0.6 56-3.4 56Q-6.2 56-6.2 54ZM0.6 28H6.2V54Q6.2 56 3.4 56Q0.6 56 0.6 54ZM-2.2 8H2.2V11H-2.2Z"/></g>
<g transform="translate(683,518)" class="o"><circle cx="0" cy="5.2" r="5.2"/><path d="M-8.5 10H8.5Q12 10 12 13.5V20H-12V13.5Q-12 10-8.5 10ZM-12 15H-8.6V32.5Q-8.6 34.5-10.3 34.5Q-12 34.5-12 32.5ZM8.6 15H12V32.5Q12 34.5 10.3 34.5Q8.6 34.5 8.6 32.5ZM-7.8 15H7.8V31H-7.8ZM-6.2 28H-0.6V54Q-0.6 56-3.4 56Q-6.2 56-6.2 54ZM0.6 28H6.2V54Q6.2 56 3.4 56Q0.6 56 0.6 54ZM-2.2 8H2.2V11H-2.2Z"/></g>
<ellipse class="e" cx="528.5" cy="543.5" rx="64.5" ry="39.5"/>
</svg>
</body>
</html>
